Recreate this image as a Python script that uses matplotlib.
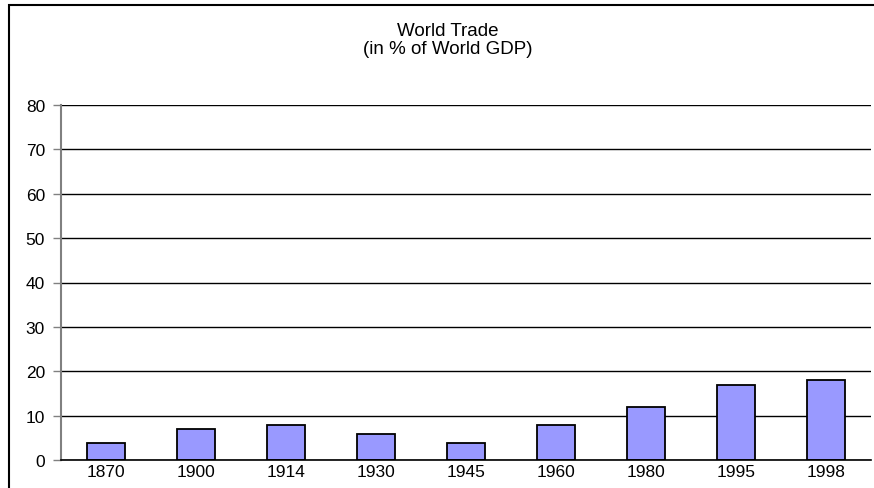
import matplotlib.pyplot as plt
from matplotlib.patches import Rectangle

years = ['1870', '1900', '1914', '1930', '1945', '1960', '1980', '1995', '1998']
trade_share = [4, 7, 8, 6, 4, 8, 12, 17, 18]
y_ticks = [0, 10, 20, 30, 40, 50, 60, 70, 80]

plt.rcParams['font.family'] = ['Liberation Sans', 'DejaVu Sans']

W, H = 874, 489
fig = plt.figure(figsize=(W / 100, H / 100), dpi=100)
ax = fig.add_axes([61 / W, 1 - 461.3 / H, 810 / W, 355.6 / H])

# chart frame (runs off the right and bottom edges)
fig.patches.append(Rectangle((8.5 / W, -0.2), 2, 1.2 - 5.5 / H,
                             transform=fig.transFigure, fill=False,
                             edgecolor='black', linewidth=1.5))

x = range(len(years))
ax.bar(x, trade_share, width=0.42, color='#9999FF', edgecolor='black',
       linewidth=1.3, zorder=3)

ax.set_xlim(-0.5, len(years) - 0.5)
ax.set_ylim(0, 80)
ax.set_yticks(y_ticks)
ax.set_xticks(list(x))
ax.set_xticklabels(years)
ax.yaxis.grid(True, color='black', linewidth=1)
ax.set_axisbelow(True)

for side in ['top', 'right']:
    ax.spines[side].set_visible(False)
ax.spines['left'].set_color('#808080')
ax.spines['left'].set_linewidth(1.5)
ax.spines['bottom'].set_color('black')
ax.spines['bottom'].set_linewidth(1.2)
ax.spines['bottom'].set_zorder(4)

ax.tick_params(axis='y', length=6, width=1, color='#808080', labelsize=12.5, pad=5.5)
ax.tick_params(axis='x', length=0, labelsize=12.5, pad=3)

fig.text(448 / W, 1 - 31.5 / H, 'World Trade', ha='center', va='center', fontsize=13.5)
fig.text(448 / W, 1 - 50 / H, '(in % of World GDP)', ha='center', va='center', fontsize=13.5)

fig.savefig('out.png', dpi=100)
